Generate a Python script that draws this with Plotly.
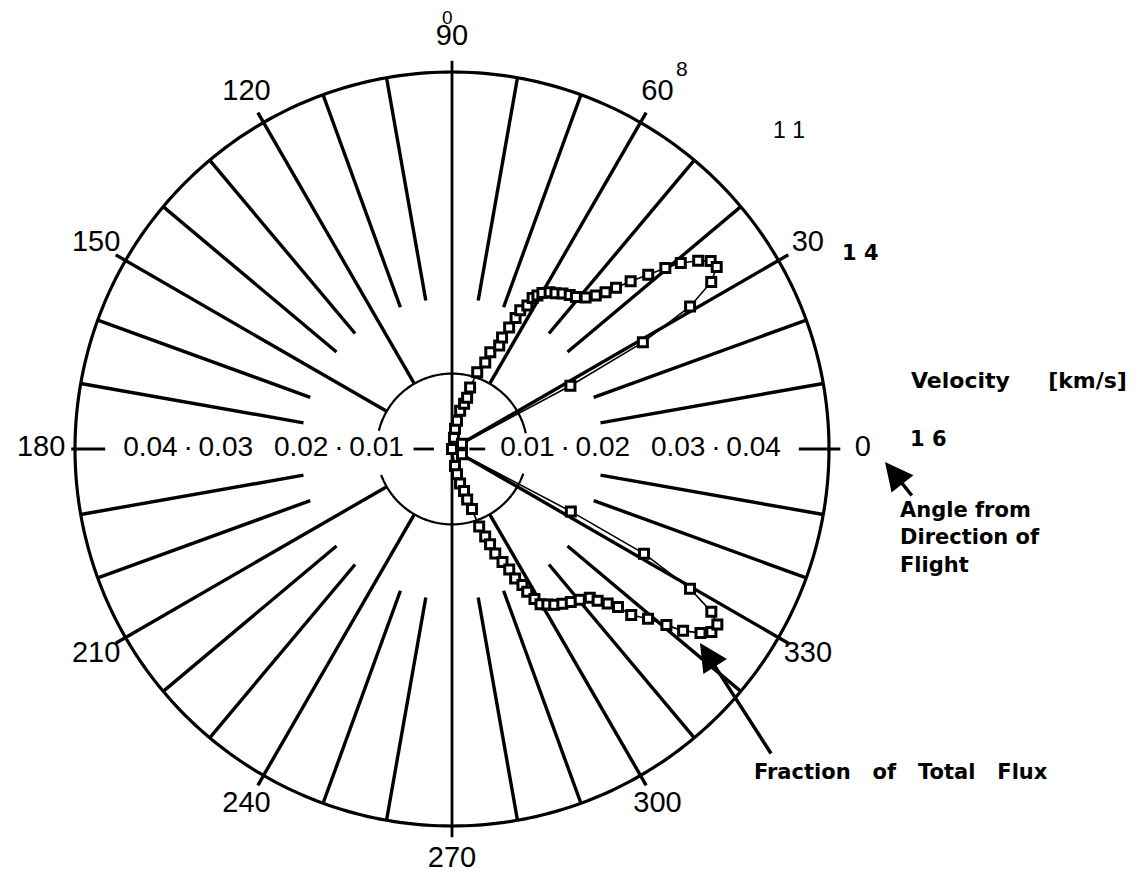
import numpy as np
import plotly.graph_objects as go

# ---------------- data ----------------
upper_theta = [0, 80, 81.5, 80, 78, 75, 73.6, 73.6, 71.8, 69, 68.4, 65.5, 65.8, 64.8, 64.1,
               63.8, 62.3, 61.9, 60.9, 59.9, 58.1, 56.4, 54.6, 52.6, 50.8, 48.6, 46.9, 45.6,
               44.5, 43.2, 41.6, 40.3, 39.1, 37.4, 36.0, 34.5, 32.8, 30.9, 29.2, 28.1, 28, 0]
upper_r = [0, 0.0015, 0.0027, 0.0038, 0.0052, 0.0062, 0.0071, 0.0085, 0.0107, 0.0123, 0.0138,
           0.0151, 0.0162, 0.0178, 0.0193, 0.0205, 0.0215, 0.0227, 0.0233, 0.0239, 0.0245,
           0.0248, 0.0253, 0.0257, 0.0260, 0.0268, 0.0279, 0.0291, 0.0305, 0.0325, 0.0348,
           0.0371, 0.0391, 0.0411, 0.0424, 0.0426, 0.0409, 0.0368, 0.0290, 0.0178, 0.0015, 0]

lower_theta = [0, 280, 281.3, 283.2, 286, 286.7, 288.4, 289.3, 290.8, 291.8, 292.5, 294.1,
               295.4, 296, 297.4, 297.8, 298.8, 299.7, 301.5, 303.3, 305.5, 307.8, 310.3,
               312.8, 313.8, 315.2, 316.4, 317.2, 319.1, 320.6, 321.8, 323.5, 324.8, 326.5,
               327.9, 329.6, 331.4, 332.3, 332, 0]
lower_r = [0, 0.0023, 0.0034, 0.0047, 0.0058, 0.0070, 0.0084, 0.0109, 0.0124, 0.0136, 0.0150,
           0.0164, 0.0177, 0.0191, 0.0203, 0.0214, 0.0227, 0.0237, 0.0242, 0.0247, 0.0252,
           0.0257, 0.0262, 0.0269, 0.0279, 0.0291, 0.0304, 0.0324, 0.0344, 0.0368, 0.0390,
           0.0410, 0.0421, 0.0422, 0.0406, 0.0366, 0.0290, 0.0178, 0.0015, 0]

angle_tick_values = [0, 30, 60, 90, 120, 150, 180, 210, 240, 270, 300, 330]
angle_tick_labels = ["0", "30", "60", "90", "120", "150", "180", "210", "240", "270", "300", "330"]
radial_tick_values = [0.01, 0.02, 0.03, 0.04]
radial_tick_labels = ["0.01", "0.02", "0.03", "0.04"]
radial_dot_values = [0.015, 0.035]
velocity_labels = ["8", "1 1", "1 4", "1 6"]

# ---------------- styling ----------------
R_OUT = 0.05
R_RANGE = 0.056
PX_PER_UNIT = 377 / 0.05
BLACK = "black"
FONT = "Liberation Sans, Arial, sans-serif"
BOLD = "DejaVu Sans, Liberation Sans, Arial, sans-serif"

fig = go.Figure()

# outer circle
circ_t = np.arange(0, 361, 1)
fig.add_trace(go.Scatterpolar(r=[R_OUT] * len(circ_t), theta=circ_t, mode="lines",
                              line=dict(color=BLACK, width=3.2), hoverinfo="skip"))

# inner circle (0.01), interrupted by the radial labels
arc1 = np.arange(12, 167, 1)
arc2 = np.arange(200, 342, 1)
arc_t = list(arc1) + [None] + list(arc2)
arc_r = [0.01] * len(arc1) + [None] + [0.01] * len(arc2)
fig.add_trace(go.Scatterpolar(r=arc_r, theta=arc_t, mode="lines",
                              line=dict(color=BLACK, width=2.2), hoverinfo="skip"))

# spokes
sp_r, sp_t = [], []
for a in range(0, 360, 10):
    if a % 90 == 0:
        continue
    if a % 30 == 0:
        r0 = 0.0 if a in (30, 330) else 0.01
        r1 = 0.0515
    else:
        r0, r1 = 0.02, R_OUT
    sp_r += [r0, r1, None]
    sp_t += [a, a, None]
fig.add_trace(go.Scatterpolar(r=sp_r, theta=sp_t, mode="lines",
                              line=dict(color=BLACK, width=3.4), hoverinfo="skip"))

# main axes (vertical full, horizontal in segments between labels)
ax_r = [0.0515, 0, 0.0515, None,
        0.046, 0.0515, None, 0.0023, 0.0044, None,
        0.046, 0.0505, None, 0.0024, 0.0051]
ax_t = [90, 90, 270, None,
        0, 0, None, 0, 0, None,
        180, 180, None, 180, 180]
fig.add_trace(go.Scatterpolar(r=ax_r, theta=ax_t, mode="lines",
                              line=dict(color=BLACK, width=2.8), hoverinfo="skip"))

# data branches
for th, rr in ((upper_theta, upper_r), (lower_theta, lower_r)):
    fig.add_trace(go.Scatterpolar(
        r=rr, theta=th, mode="lines+markers",
        line=dict(color=BLACK, width=1.6),
        marker=dict(symbol="square", size=9, color="white",
                    line=dict(color=BLACK, width=3)),
        hoverinfo="skip"))

# angular labels
fig.add_trace(go.Scatterpolar(
    r=[0.0545] * len(angle_tick_values), theta=angle_tick_values, mode="text",
    text=angle_tick_labels, textposition="middle center",
    textfont=dict(family=FONT, size=29, color=BLACK), cliponaxis=False, hoverinfo="skip"))

# radial labels (both sides)
fig.add_trace(go.Scatterpolar(
    r=radial_tick_values * 2,
    theta=[0] * len(radial_tick_values) + [180] * len(radial_tick_values),
    mode="text", text=radial_tick_labels * 2, textposition="middle center",
    textfont=dict(family=FONT, size=28, color=BLACK), cliponaxis=False, hoverinfo="skip"))
fig.add_trace(go.Scatterpolar(
    r=radial_dot_values * 2,
    theta=[0] * len(radial_dot_values) + [180] * len(radial_dot_values),
    mode="text", text=["·"] * 4, textposition="middle center",
    textfont=dict(family=FONT, size=28, color=BLACK), cliponaxis=False, hoverinfo="skip"))

W, H = 1143, 879
OFF = 8  # page body margin of the html page


def px(x):
    return (x - OFF) / W


def py(y):
    return 1 - (y - OFF) / H


annotations = [
    dict(x=px(447), y=py(17), text="0", font=dict(family=FONT, size=19)),
    dict(x=px(682), y=py(68), text=velocity_labels[0], font=dict(family=FONT, size=21)),
    dict(x=px(789), y=py(130), text=velocity_labels[1], font=dict(family=FONT, size=23)),
    dict(x=px(860), y=py(253), text=velocity_labels[2], font=dict(family=BOLD, size=21, weight="bold")),
    dict(x=px(928), y=py(439), text=velocity_labels[3], font=dict(family=BOLD, size=21, weight="bold")),
    dict(x=px(909), y=py(380), xanchor="left",
         text="Velocity\u00a0\u00a0\u00a0\u00a0\u00a0[km/s]", font=dict(family=BOLD, size=22, weight="bold")),
    dict(x=px(898), y=py(496), xanchor="left", yanchor="top", align="left",
         text="Angle from<br>Direction of<br>Flight", font=dict(family=BOLD, size=21, weight="bold")),
    dict(x=px(901), y=py(772),
         text="Fraction\u00a0\u00a0\u00a0of\u00a0\u00a0\u00a0Total\u00a0\u00a0\u00a0Flux",
         font=dict(family=BOLD, size=21, weight="bold")),
    # arrows
    dict(x=px(885), y=py(462), ax=28, ay=35, text="", showarrow=True,
         arrowhead=2, arrowsize=1.6, arrowwidth=3.5, arrowcolor=BLACK),
    dict(x=px(700), y=py(643), ax=72, ay=112, text="", showarrow=True,
         arrowhead=2, arrowsize=1.6, arrowwidth=3.5, arrowcolor=BLACK),
]
for a in annotations:
    a.setdefault("xref", "paper")
    a.setdefault("yref", "paper")
    a.setdefault("showarrow", False)
    a.setdefault("xanchor", "center")
    a.setdefault("yanchor", "middle")
    if "font" in a:
        a["font"].setdefault("color", BLACK)

cx, cy = 452, 449            # on-screen centre of the polar plot
rad = PX_PER_UNIT * R_RANGE  # radius of the polar area in px
fig.update_layout(
    width=W, height=H,
    margin=dict(l=0, r=0, t=0, b=0),
    paper_bgcolor="white",
    showlegend=False,
    font=dict(family=FONT, color=BLACK),
    polar=dict(
        domain=dict(x=[px(cx - rad), px(cx + rad)], y=[py(cy + rad), py(cy - rad)]),
        bgcolor="white",
        radialaxis=dict(range=[0, R_RANGE], visible=False),
        angularaxis=dict(visible=False, rotation=0, direction="counterclockwise"),
    ),
    annotations=annotations,
)

fig.write_html("out.html")
